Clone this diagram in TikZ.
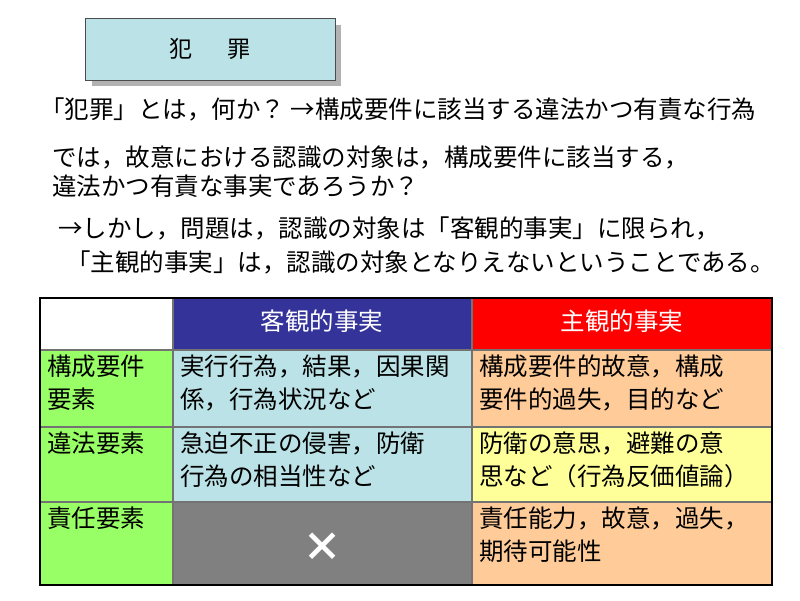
\documentclass[tikz,border=0pt]{standalone}
\usepackage{fontspec}
\setmainfont{Noto Sans CJK JP}
\definecolor{cyanbg}{RGB}{187,226,230}
\definecolor{navy}{RGB}{51,51,153}
\definecolor{lgreen}{RGB}{153,255,102}
\definecolor{peach}{RGB}{255,204,153}
\definecolor{lyellow}{RGB}{255,255,153}
\begin{document}
\begin{tikzpicture}[x=1pt,y=-1pt,
  txt/.style={anchor=north west,inner sep=0pt,font=\fontsize{24.5}{30}\selectfont},
  cell/.style={anchor=north west,inner sep=0pt,font=\fontsize{24.5}{33}\selectfont,align=left},
  hd/.style={anchor=center,inner sep=0pt,font=\fontsize{24.5}{30}\selectfont,text=white}]
\useasboundingbox (0,0) rectangle (800,600);
\fill[gray!60] (92,25) rectangle (341,86);
\draw[fill=cyanbg,draw=black!70] (85,18) rectangle (335,80);
\node[font=\fontsize{23}{27}\selectfont] (title) at (210,49) {犯\hspace{1.5em}罪};
\node[txt] (l1) at (40,98) {「犯罪」とは，何か？ →構成要件に該当する違法かつ有責な行為};
\node[txt] (l2) at (52,146) {では，故意における認識の対象は，構成要件に該当する，};
\node[txt] (l3) at (52,175) {違法かつ有責な事実であろうか？};
\node[txt] (l4) at (58,217) {→しかし，問題は，認識の対象は「客観的事実」に限られ，};
\node[txt] (l5) at (66,251) {「主観的事実」は，認識の対象となりえないということである。};
\fill[white] (40,298) rectangle (173,350);
\fill[navy] (173,298) rectangle (472,350);
\fill[red] (472,298) rectangle (772,350);
\fill[lgreen] (40,350) rectangle (173,585);
\fill[cyanbg] (173,350) rectangle (472,502);
\fill[peach] (472,350) rectangle (772,427);
\fill[lyellow] (472,427) rectangle (772,502);
\fill[gray] (173,502) rectangle (472,585);
\fill[peach] (472,502) rectangle (772,585);
\draw[black!55,line width=1.2pt] (173,298) -- (173,585) (472,298) -- (472,585)
  (40,350) -- (772,350) (40,427) -- (772,427) (40,502) -- (772,502);
\draw[black,line width=2pt] (40,298) rectangle (772,585);
\node[hd] (h1) at (322,321) {客観的事実};
\node[hd] (h2) at (622,321) {主観的事実};
\node[cell] (r1) at (47,355) {構成要件\\要素};
\node[cell] (r2) at (47,432) {違法要素};
\node[cell] (r3) at (47,507) {責任要素};
\node[cell] (c11) at (180,355) {実行行為，結果，因果関\\係，行為状況など};
\node[cell] (c12) at (479,355) {構成要件的故意，構成\\要件的過失，目的など};
\node[cell] (c21) at (180,432) {急迫不正の侵害，防衛\\行為の相当性など};
\node[cell] (c22) at (479,432) {防衛の意思，避難の意\\思など（行為反価値論）};
\node[hd,font=\fontsize{40}{40}\selectfont\bfseries] (x) at (322,547) {×};
\node[cell] (c32) at (479,507) {責任能力，故意，過失，\\期待可能性};
\end{tikzpicture}
\end{document}
